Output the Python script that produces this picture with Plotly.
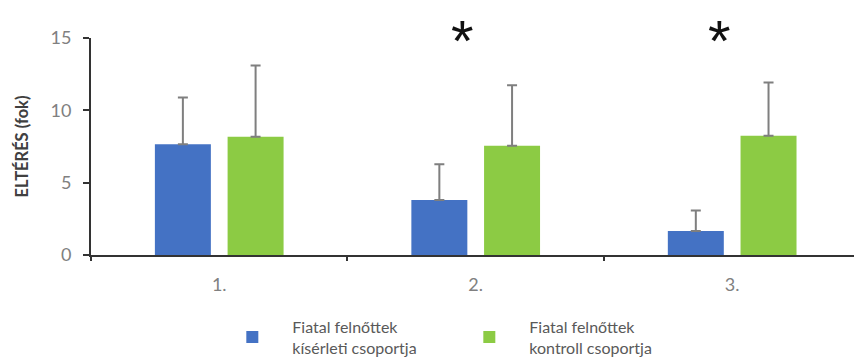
import plotly.graph_objects as go

# Measurement groups and series
categories = ["1.", "2.", "3."]
series_names = ["Fiatal felnőttek<br>kísérleti csoportja",
                "Fiatal felnőttek<br>kontroll csoportja"]
exp_mean = [7.66, 3.81, 1.66]
exp_sd = [3.23, 2.47, 1.41]
ctrl_mean = [8.17, 7.56, 8.24]
ctrl_sd = [4.93, 4.18, 3.68]
significant = ["2.", "3."]
y_ticks = [0, 5, 10, 15]

FONT = "Lato"
BLUE = "#4472C4"
GREEN = "#8CCB44"
ERR = "#7F7F7F"

fig = go.Figure()
for name, mean, sd, color in [(series_names[0], exp_mean, exp_sd, BLUE),
                              (series_names[1], ctrl_mean, ctrl_sd, GREEN)]:
    fig.add_trace(go.Bar(
        x=categories, y=mean, name=name,
        marker=dict(color=color, line=dict(width=0)),
        error_y=dict(type="data", symmetric=False, array=sd,
                     arrayminus=[0] * len(sd), color=ERR,
                     thickness=2, width=5),
    ))

# significance markers above the groups (category index positions)
for cat in significant:
    fig.add_annotation(x=categories.index(cat), y=1.0, xref="x", yref="paper",
                       text="*", showarrow=False, xshift=-13, yshift=-2,
                       yanchor="middle",
                       font=dict(family="Liberation Sans", size=58, color="#111111"))

fig.update_layout(
    width=854, height=361,
    margin=dict(l=91, r=0, t=38, b=106, autoexpand=False),
    paper_bgcolor="white", plot_bgcolor="white",
    barmode="group", bargap=0.433, bargroupgap=0.23,
    font=dict(family=FONT, color="#595959"),
    showlegend=True,
    legend=dict(orientation="h", x=0.159, xanchor="left",
                yref="container", y=0.142, yanchor="top",
                itemwidth=70, entrywidth=152,
                font=dict(family=FONT, size=16, color="#595959"),
                itemclick=False),
    xaxis=dict(range=[-0.5, 2.475], showline=True, linecolor="#333333",
               linewidth=2, ticks="outside", tickson="boundaries",
               ticklen=4, tickcolor="#333333", tickwidth=2,
               ticklabelstandoff=12,
               tickfont=dict(family=FONT, size=18, color="#808080"),
               showgrid=False, zeroline=False, fixedrange=True),
    yaxis=dict(range=[0, 15], tickvals=y_ticks, showline=True,
               linecolor="#333333", linewidth=2, ticks="outside",
               ticklen=6, tickcolor="#333333", tickwidth=2,
               ticklabelstandoff=8,
               tickfont=dict(family=FONT, size=18, color="#808080"),
               title=dict(text="<b>ELTÉRÉS (fok)</b>", standoff=18,
                          font=dict(family=FONT, size=16.5, color="#404040")),
               showgrid=False, zeroline=False, fixedrange=True),
)

fig.write_html("out.html")
